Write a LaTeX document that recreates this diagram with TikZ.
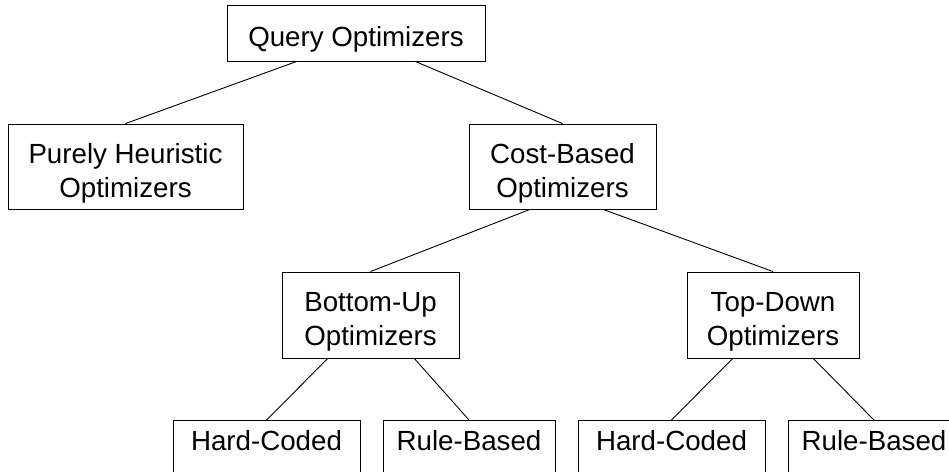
\documentclass[tikz,border=0pt]{standalone}
\usepackage{fontspec}
\setmainfont{Liberation Sans}
\usetikzlibrary{calc}
\tikzset{
  box/.style={draw=black, line width=0.9pt, inner sep=0pt,
    font=\fontsize{27.7}{34}\selectfont, text height=30pt},
  single/.style={box, text depth=2.8pt},
  double/.style={box, align=center, text height=63.8pt, text depth=2.8pt, minimum height=85pt},
  leaf/.style={box, anchor=north, text depth=60pt},
  link/.style={draw=black, line width=0.9pt},
}
\begin{document}
\begin{tikzpicture}[x=1pt,y=-1pt]
\useasboundingbox (0,0) rectangle (949,471);
\clip (0,0) rectangle (949,471);

% root
\node[single, minimum width=258pt, minimum height=56pt] (query) at (356,33) {Query Optimizers};

% second level
\node[double, minimum width=235pt] (heur) at (125.5,166.5) {Purely Heuristic\\Optimizers};
\node[double, minimum width=187pt] (cost) at (562.5,166.5) {Cost-Based\\Optimizers};

% third level
\node[double, minimum width=177pt, minimum height=86pt] (bu) at (370.5,315) {Bottom-Up\\Optimizers};
\node[double, minimum width=172pt, minimum height=86pt] (td) at (773,315) {Top-Down\\Optimizers};

% leaves
\node[leaf, minimum width=187pt] (buhc) at (266.5,420) {Hard-Coded};
\node[leaf, minimum width=172pt] (burb) at (469,420) {Rule-Based};
\node[leaf, minimum width=187pt] (tdhc) at (671.5,420) {Hard-Coded};
\node[leaf, minimum width=172pt] (tdrb) at (874,420) {Rule-Based};

% connectors
\draw[link] ($(query.south west)!0.271!(query.south east)$) -- (heur.north);
\draw[link] ($(query.south west)!0.729!(query.south east)$) -- (cost.north);
\draw[link] ($(cost.south west)!0.326!(cost.south east)$) -- (bu.north);
\draw[link] ($(cost.south west)!0.717!(cost.south east)$) -- (td.north);
\draw[link] ($(bu.south west)!0.26!(bu.south east)$) -- (buhc.north);
\draw[link] ($(bu.south west)!0.746!(bu.south east)$) -- (burb.north);
\draw[link] ($(td.south west)!0.267!(td.south east)$) -- (tdhc.north);
\draw[link] ($(td.south west)!0.733!(td.south east)$) -- (tdrb.north);
\end{tikzpicture}
\end{document}
